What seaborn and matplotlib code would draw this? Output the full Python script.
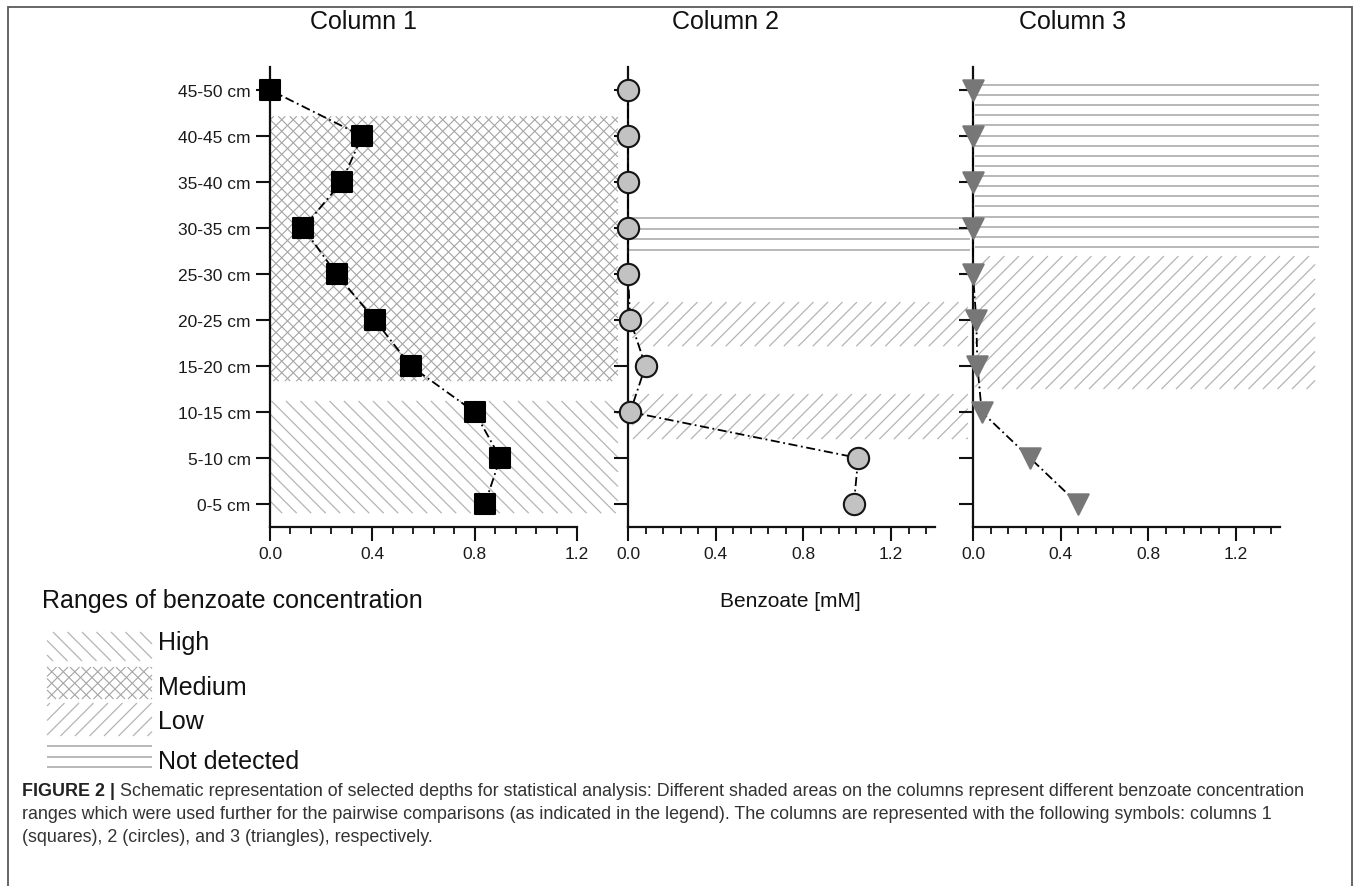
import numpy as np
import pandas as pd
import matplotlib
matplotlib.use("Agg")
import matplotlib.pyplot as plt
import seaborn as sns
from matplotlib.collections import LineCollection
from matplotlib.patches import Rectangle
from matplotlib.ticker import FixedLocator, MultipleLocator

# ---------------- data ----------------
depths = ["0-5 cm", "5-10 cm", "10-15 cm", "15-20 cm", "20-25 cm",
          "25-30 cm", "30-35 cm", "35-40 cm", "40-45 cm", "45-50 cm"]
col1 = [0.84, 0.90, 0.80, 0.55, 0.41, 0.26, 0.13, 0.28, 0.36, 0.00]
col2 = [1.03, 1.05, 0.01, 0.08, 0.01, 0.00, 0.00, 0.00, 0.00, 0.00]
col3 = [0.48, 0.26, 0.04, 0.02, 0.015, 0.00, 0.00, 0.00, 0.00, 0.00]
titles = ["Column 1", "Column 2", "Column 3"]
xticks_major = [0.0, 0.4, 0.8, 1.2]
xticklabels = ["0.0", "0.4", "0.8", "1.2"]

# shaded concentration ranges (panel, level, depth-index range, x range)
shade_panel = [0, 0, 1, 1, 1, 2, 2]
shade_level = ["Medium", "High", "Not detected", "Low", "Low", "Not detected", "Low"]
shade_ylo = [2.67, -0.20, 5.52, 3.43, 1.41, 5.59, 2.50]
shade_yhi = [8.43, 2.24, 6.22, 4.39, 2.39, 9.11, 5.39]
shade_xlo = [0.00, 0.00, 0.00, 0.02, 0.02, 0.01, 0.01]
shade_xhi = [1.36, 1.36, 1.56, 1.55, 1.55, 1.58, 1.56]
legend_levels = ["High", "Medium", "Low", "Not detected"]

# ---------------- style ----------------
sns.set_style("ticks")
plt.rcParams["font.family"] = ["Liberation Sans", "DejaVu Sans"]

W, H = 1357, 887
fig = plt.figure(figsize=(W / 100, H / 100), dpi=100)
fig.patch.set_facecolor("white")


def fx(p):
    return p / W


def fy(p):
    return 1 - p / H


# hatch styles: kind, colour, linewidth, spacing(px)
hatch_style = {
    "High": ("\\", "#b4b4b4", 0.9, 14.5),
    "Medium": ("x", "#a4a4a4", 0.8, 11.5),
    "Low": ("/", "#b4b4b4", 0.9, 14.5),
    "Not detected": ("h", "#a4a4a4", 1.1, 10.1),
}


def hatch_px(x0, y0, x1, y1, level, zorder=-1):
    """Draw a hatched box given image-pixel coords (y downwards)."""
    kind, color, lw, s = hatch_style[level]
    segs = []
    if kind == "h":
        n = int(round((y1 - y0) / s)) + 1
        for y in np.linspace(y0, y1, n):
            segs.append([(x0, y), (x1, y)])
    else:
        dirs = {"/": ["/"], "\\": ["\\"], "x": ["/", "\\"]}[kind]
        for d in dirs:
            if d == "/":
                cmin, cmax = x0 + y0, x1 + y1
                for c in np.arange(np.ceil(cmin / s) * s, cmax, s):
                    xa, xb = max(x0, c - y1), min(x1, c - y0)
                    if xb - xa > 0.5:
                        segs.append([(xa, c - xa), (xb, c - xb)])
            else:
                cmin, cmax = y0 - x1, y1 - x0
                for c in np.arange(np.ceil(cmin / s) * s, cmax, s):
                    xa, xb = max(x0, y0 - c), min(x1, y1 - c)
                    if xb - xa > 0.5:
                        segs.append([(xa, xa + c), (xb, xb + c)])
    segs = [[(fx(a), fy(b)) for a, b in seg] for seg in segs]
    lc = LineCollection(segs, colors=color, linewidths=lw,
                        transform=fig.transFigure, zorder=zorder)
    fig.add_artist(lc)


# ---------------- axes ----------------
axes_px = [(270, 577, 1.2), (628, 935, 1.4), (973, 1280, 1.4)]
top, bot = 68, 528
series = [col1, col2, col3]
markers = ["s", "o", "v"]
faces = ["black", "#c2c2c2", "#777777"]
edges = ["black", "#151515", "#777777"]
msizes = [205, 235, 215]

idx = np.arange(len(depths))
axs = []
for k, (l, r, xm) in enumerate(axes_px):
    ax = fig.add_axes([fx(l), fy(bot), (r - l) / W, (bot - top) / H])
    ax.set_facecolor("none")
    df = pd.DataFrame({"depth": idx, "conc": series[k]})
    sns.lineplot(data=df, x="conc", y="depth", orient="y", sort=False,
                 estimator=None, color="black", lw=1.3, ax=ax, zorder=3)
    for ln in ax.lines:
        ln.set_linestyle((0, (5, 2, 1, 2)))
        ln.set_clip_on(False)
    sns.scatterplot(data=df, x="conc", y="depth", marker=markers[k],
                    s=msizes[k], color=faces[k], edgecolor=edges[k],
                    linewidth=1.5, ax=ax, zorder=5, clip_on=False)
    ax.set_xlim(0, xm)
    ax.set_ylim(-0.5, 9.5)
    ax.set_xlabel("")
    ax.set_ylabel("")
    for sp in ["top", "right"]:
        ax.spines[sp].set_visible(False)
    for sp in ["left", "bottom"]:
        ax.spines[sp].set_linewidth(1.6)
        ax.spines[sp].set_color("#111111")
    ax.xaxis.set_major_locator(FixedLocator(xticks_major))
    ax.set_xticklabels(xticklabels)
    ax.xaxis.set_minor_locator(MultipleLocator(0.08))
    ax.yaxis.set_major_locator(FixedLocator(idx))
    if k == 0:
        ax.set_yticklabels(depths)
    else:
        ax.set_yticklabels([])
    ax.tick_params(axis="both", which="major", direction="out", length=10,
                   width=1.5, color="#111111", labelsize=12.5,
                   labelcolor="#1a1a1a")
    ax.tick_params(axis="x", which="major", pad=4)
    ax.tick_params(axis="y", which="major", pad=4)
    ax.tick_params(axis="x", which="minor", direction="out", length=5,
                   width=1.3, color="#111111")
    ax.legend_ = None
    axs.append(ax)

# shaded ranges through the axes' data transforms
for p, lev, ylo, yhi, xlo, xhi in zip(shade_panel, shade_level, shade_ylo,
                                       shade_yhi, shade_xlo, shade_xhi):
    ax = axs[p]
    (dx0, dy0) = ax.transData.transform((xlo, yhi))
    (dx1, dy1) = ax.transData.transform((xhi, ylo))
    hatch_px(dx0, H - dy0, dx1, H - dy1, lev)

# titles
title_x = [364, 726, 1073]
for t, x in zip(titles, title_x):
    fig.text(fx(x), fy(22), t, ha="center", va="center", fontsize=18,
             color="#111111")

fig.text(fx(790), fy(602), "Benzoate [mM]", ha="center", va="center",
         fontsize=15, color="#111111")

# legend
fig.text(fx(42), fy(601), "Ranges of benzoate concentration", ha="left",
         va="center", fontsize=18, color="#111111")
leg_boxes = [(633, 662), (668, 700), (704, 737), (747, 768)]
leg_label_y = [643, 688, 722, 762]
for lev, (y0, y1), ly in zip(legend_levels, leg_boxes, leg_label_y):
    hatch_px(47, y0, 152, y1, lev, zorder=2)
    fig.text(fx(158), fy(ly), lev, ha="left", va="center", fontsize=18,
             color="#111111")

# caption
cap_ax = fig.add_axes([0, 0, 1, 1])
cap_ax.set_axis_off()
cap_ax.set_xlim(0, 1)
cap_ax.set_ylim(0, 1)
cap_color = "#333333"
cap_fs = 12.9
t1 = cap_ax.text(fx(22), fy(792), "FIGURE 2 |", fontsize=cap_fs,
                 fontweight="bold", color="#222222", ha="left", va="center")
cap_ax.annotate(" Schematic representation of selected depths for statistical "
                "analysis: Different shaded areas on the columns represent "
                "different benzoate concentration",
                xy=(1, 0), xycoords=t1, va="bottom", ha="left",
                fontsize=cap_fs, color=cap_color)
cap_ax.text(fx(22), fy(815), "ranges which were used further for the pairwise "
            "comparisons (as indicated in the legend). The columns are "
            "represented with the following symbols: columns 1",
            fontsize=cap_fs, color=cap_color, ha="left", va="center")
cap_ax.text(fx(22), fy(838), "(squares), 2 (circles), and 3 (triangles), "
            "respectively.", fontsize=cap_fs, color=cap_color, ha="left",
            va="center")

# frame
frame = Rectangle((fx(8), -0.05), (1352 - 8) / W, 1.05 - 8 / H,
                  transform=fig.transFigure, fill=False, edgecolor="#5a5a5a",
                  linewidth=1.3, zorder=10)
fig.add_artist(frame)

fig.savefig("out.png", dpi=100)
